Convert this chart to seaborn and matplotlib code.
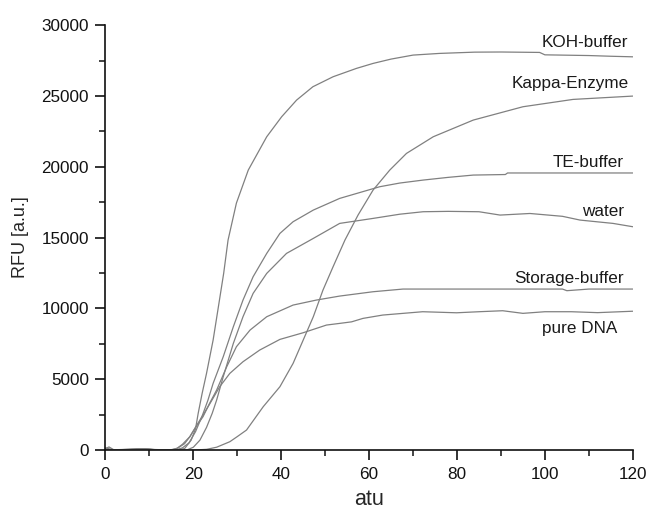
import matplotlib
matplotlib.use("Agg")
import matplotlib.pyplot as plt
import seaborn as sns
import pandas as pd
from matplotlib.ticker import MultipleLocator

# ---- data ----
koh_x = [0, 2, 5, 8, 10, 13, 16, 18, 19.5, 20.5, 21.1, 22, 23, 24.5, 25.7, 26.9, 27.9, 29.8, 32.5, 36.7,
         40.1, 43.5, 47.2, 51.8, 57.1, 60.9, 65, 70, 76, 84, 90, 98.8, 100, 110, 115, 120]
koh_y = [150, 0, 50, 100, 50, 0, 0, 100, 700, 1500, 2590, 4000, 5414, 7765, 10115, 12470, 14824, 17435,
         19765, 22117, 23530, 24706, 25647, 26353, 26941, 27294, 27600, 27882, 28000, 28090, 28100, 28070,
         27900, 27850, 27800, 27760]

te_x = [0, 3, 8, 12, 16, 17.5, 19, 20.5, 22, 23.3, 24.5, 26.8, 29.1, 31.3, 33.6, 36.7, 39.7, 42.7, 47.3,
        53.3, 62.4, 67, 72.3, 78, 83.7, 91, 91.5, 100, 110, 120]
te_y = [0, 0, 80, 0, 0, 150, 500, 1300, 2400, 3500, 4706, 6588, 8706, 10588, 12235, 13882, 15294, 16118,
        16941, 17765, 18588, 18850, 19059, 19250, 19412, 19450, 19560, 19560, 19560, 19560]

water_x = [0, 5, 10, 15, 18.5, 20, 21.5, 23, 24.3, 25.3, 26.8, 29.1, 31.3, 33.6, 36.7, 41.2, 47.3, 53.3,
           60.9, 67, 72.3, 78, 85, 89.8, 96.6, 104, 108, 115.5, 120]
water_y = [0, 50, 0, 0, 0, 200, 700, 1600, 2600, 3529, 5176, 7529, 9412, 11059, 12471, 13882, 14941, 16000,
           16353, 16650, 16824, 16850, 16824, 16588, 16700, 16500, 16235, 16000, 15765]

storage_x = [0, 4, 8, 12, 14.5, 16.2, 17.5, 19.2, 20.5, 22.2, 23.7, 25.3, 27.6, 29.8, 32.9, 36.7, 42.7, 48,
             53.3, 60.9, 67.7, 80, 95, 104, 105, 110, 120]
storage_y = [0, 0, 100, 0, 0, 100, 400, 941, 1600, 2353, 3300, 4235, 5882, 7294, 8470, 9412, 10235, 10588,
             10870, 11176, 11365, 11365, 11365, 11365, 11250, 11365, 11365]

dna_x = [0, 0.8, 2, 6, 9, 12, 15, 16.5, 18, 19.2, 21.5, 23.8, 26.0, 28.3, 31.3, 35.1, 39.7, 45.0, 50.3, 53.3,
         56, 58.6, 63.1, 72.2, 79.9, 85, 90.4, 95, 100, 106, 112, 120]
dna_y = [100, 220, 0, 0, 100, 0, 0, 150, 450, 940, 2118, 3294, 4470, 5412, 6235, 7059, 7812, 8282, 8824,
         8941, 9050, 9294, 9530, 9765, 9690, 9765, 9835, 9650, 9765, 9765, 9700, 9800]

kappa_x = [0, 5, 10, 15, 20, 23, 25.3, 28.3, 30, 32.1, 35.9, 39.7, 42.7, 45.0, 47.3, 49.5, 51.8, 54.5,
           57.5, 60.9, 64.7, 68.5, 74.6, 83.7, 95.0, 106.4, 120]
kappa_y = [0, 0, 50, 0, 0, 50, 200, 588, 950, 1412, 3059, 4471, 6118, 7765, 9412, 11294, 12941, 14824,
           16600, 18353, 19765, 20941, 22118, 23294, 24235, 24753, 24988]

series_names = ["KOH-buffer", "Kappa-Enzyme", "TE-buffer", "water", "Storage-buffer", "pure DNA"]
label_x = [118.9, 119.2, 118.0, 118.0, 118.0, 116.4]
label_y = [28753, 25882, 20282, 16824, 12118, 8588]

xticks = [0, 20, 40, 60, 80, 100, 120]
yticks = [0, 5000, 10000, 15000, 20000, 25000, 30000]

# ---- build long table ----
frames = []
for name, xs, ys in [("KOH-buffer", koh_x, koh_y), ("Kappa-Enzyme", kappa_x, kappa_y),
                     ("TE-buffer", te_x, te_y), ("water", water_x, water_y),
                     ("Storage-buffer", storage_x, storage_y), ("pure DNA", dna_x, dna_y)]:
    frames.append(pd.DataFrame({"atu": xs, "rfu": ys, "sample": name}))
df = pd.concat(frames, ignore_index=True)

sns.set_style("ticks")
plt.rcParams["font.family"] = ["Liberation Sans", "DejaVu Sans"]

fig = plt.figure(figsize=(6.51, 5.12), dpi=100)
ax = fig.add_axes([0.162, 0.121, 0.810, 0.830])

sns.lineplot(data=df, x="atu", y="rfu", hue="sample", estimator=None, sort=False,
             palette=["#808080"] * 6, legend=False, linewidth=0.9, ax=ax)

for name, lx, ly in zip(series_names, label_x, label_y):
    ax.text(lx, ly, name, ha="right", va="center", fontsize=12.3, color="#1a1a1a")

ax.set_xlim(0, 120)
ax.set_ylim(0, 30000)
ax.set_xticks(xticks)
ax.set_yticks(yticks)
ax.xaxis.set_minor_locator(MultipleLocator(10))
ax.yaxis.set_minor_locator(MultipleLocator(2500))
ax.tick_params(which="major", direction="out", length=7, width=1.2, labelsize=12.3, colors="#111111",
               pad=5)
ax.tick_params(which="minor", direction="out", length=4, width=1.1, colors="#111111")
for s in ["top", "right"]:
    ax.spines[s].set_visible(False)
for s in ["left", "bottom"]:
    ax.spines[s].set_linewidth(1.2)
    ax.spines[s].set_color("#111111")

ax.set_xlabel("atu", fontsize=15.5, labelpad=5)
ax.set_ylabel("RFU [a.u.]", fontsize=13, labelpad=9)

fig.savefig("out.png", dpi=100)
